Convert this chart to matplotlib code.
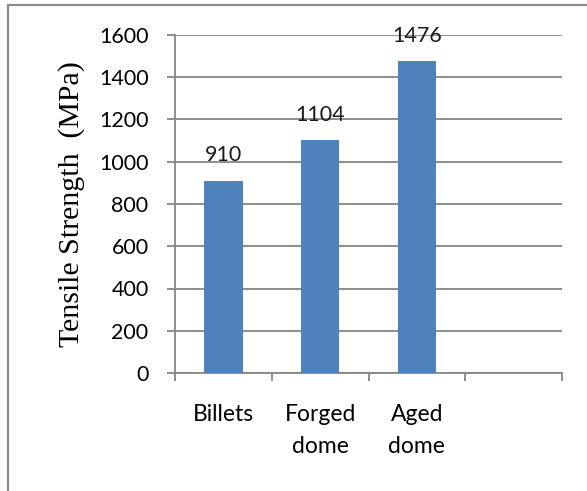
import matplotlib
matplotlib.use("Agg")
import matplotlib.pyplot as plt
from matplotlib.lines import Line2D

# Tensile strength for each processing stage
stages = ["Billets", "Forged\ndome", "Aged\ndome"]
strength = [910, 1104, 1476]
y_ticks = [0, 200, 400, 600, 800, 1000, 1200, 1400, 1600]

bar_color = "#4F81BD"
axis_gray = "#868686"
label_font = "Lato"

fig = plt.figure(figsize=(5.87, 4.91), dpi=100)
ax = fig.add_axes([175 / 587, 1 - 373 / 491, 387 / 587, 338 / 491])

# one empty slot is kept after the last stage
positions = list(range(len(stages)))
ax.bar(positions, strength, width=0.4, color=bar_color, zorder=3)
ax.set_xlim(-0.5, 3.5)
ax.set_ylim(0, 1600)

for x, v in zip(positions, strength):
    ax.annotate(str(v), (x, v), xytext=(0, 11), textcoords="offset points",
                ha="center", va="bottom", fontsize=15.5, family=label_font,
                color="#1a1a1a")

ax.set_yticks(y_ticks)
ax.set_yticklabels([str(t) for t in y_ticks], fontsize=15.5, family=label_font)
ax.yaxis.grid(True, color=axis_gray, linewidth=1.3, zorder=0)

# category boundaries get the tick marks, names sit between them
ax.set_xticks([-0.5, 0.5, 1.5, 2.5, 3.5])
ax.set_xticklabels([])
ax.set_xticks(positions, minor=True)
ax.set_xticklabels(stages, minor=True, fontsize=16.5, family=label_font,
                   linespacing=1.65, va="top")
ax.tick_params(axis="x", which="minor", length=0, pad=22)
ax.tick_params(axis="x", which="major", length=6, width=1.3, color=axis_gray,
               direction="out")
ax.tick_params(axis="y", length=6, width=1.3, color=axis_gray, pad=13)

for side in ["top", "right"]:
    ax.spines[side].set_visible(False)
for side in ["left", "bottom"]:
    ax.spines[side].set_color(axis_gray)
    ax.spines[side].set_linewidth(1.3)

ax.set_ylabel("Tensile Strength  (MPa)", family="Liberation Serif",
              fontsize=21.5, labelpad=10)

# chart frame
fig.add_artist(Line2D([7.5 / 587, 7.5 / 587], [0, 1 - 5 / 491],
                      color="#8c8c8c", linewidth=1.6))
fig.add_artist(Line2D([7.5 / 587, 1], [1 - 5 / 491, 1 - 5 / 491],
                      color="#8c8c8c", linewidth=1.6))

fig.savefig("out.png", dpi=100)
